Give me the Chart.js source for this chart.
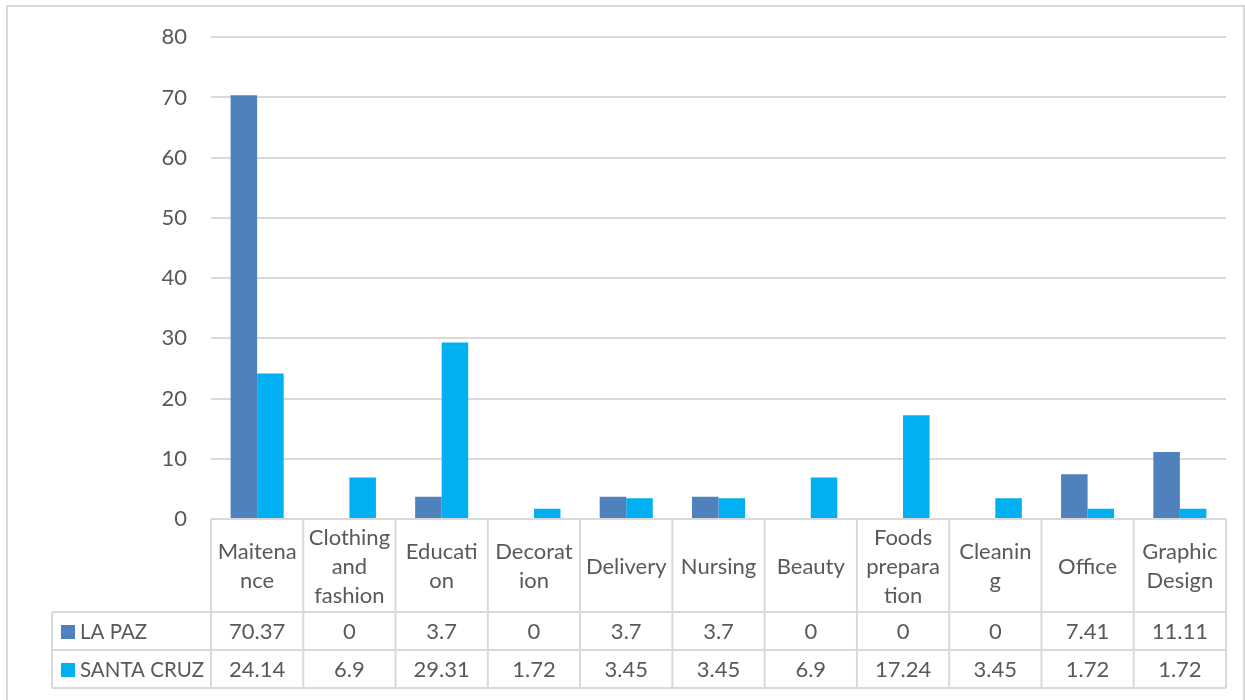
<!DOCTYPE html>
<html>
<head>
<meta charset="utf-8">
<script src="https://cdn.jsdelivr.net/npm/chart.js@4/dist/chart.umd.min.js"></script>
<style>
  html, body { margin: 0; padding: 0; background: #fff; }
  #wrap { width: 1245px; height: 700px; position: relative; }
</style>
</head>
<body>
<div id="wrap"><canvas id="jobsChart" width="1245" height="700"></canvas></div>
<script>
// categories, wrapped the way the table cells break them
const categories = [
  ["Maitena", "nce"],
  ["Clothing", "and", "fashion"],
  ["Educati", "on"],
  ["Decorat", "ion"],
  ["Delivery"],
  ["Nursing"],
  ["Beauty"],
  ["Foods", "prepara", "tion"],
  ["Cleanin", "g"],
  ["Office"],
  ["Graphic", "Design"]
];
const seriesNames = ["LA PAZ", "SANTA CRUZ"];
const laPaz = [70.37, 0, 3.7, 0, 3.7, 3.7, 0, 0, 0, 7.41, 11.11];
const santaCruz = [24.14, 6.9, 29.31, 1.72, 3.45, 3.45, 6.9, 17.24, 3.45, 1.72, 1.72];
const yTicks = [0, 10, 20, 30, 40, 50, 60, 70, 80];

const colors = ["#4F81BD", "#00B0F0"];
const lineColor = "#d9d9d9";
const textColor = "#595959";
const font = "Lato, 'Open Sans', sans-serif";
const fontSize = 22;

// data table under the plot (header row with categories + one row per series)
const dataTable = {
  id: "dataTable",
  afterDraw(chart) {
    const ctx = chart.ctx;
    const area = chart.chartArea;
    const n = categories.length;
    const colW = (area.right - area.left) / n;
    const headTop = area.bottom;
    const headBottom = headTop + 93;
    const rowH = 38;
    const tableLeft = 52;
    const tableBottom = headBottom + rowH * seriesNames.length;
    const series = [laPaz, santaCruz];

    ctx.save();
    ctx.strokeStyle = lineColor;
    ctx.lineWidth = 2;

    // outer chart frame
    ctx.strokeRect(7, 6, 1237, 700);

    ctx.beginPath();
    // header top
    ctx.moveTo(area.left, headTop);
    ctx.lineTo(area.right, headTop);
    // row lines
    for (let r = 0; r <= seriesNames.length; r++) {
      const y = headBottom + r * rowH;
      ctx.moveTo(tableLeft, y);
      ctx.lineTo(area.right, y);
    }
    // column lines
    for (let i = 0; i <= n; i++) {
      const x = area.left + i * colW;
      ctx.moveTo(x, headTop);
      ctx.lineTo(x, tableBottom);
    }
    ctx.moveTo(tableLeft, headBottom);
    ctx.lineTo(tableLeft, tableBottom);
    ctx.stroke();

    ctx.fillStyle = textColor;
    ctx.font = fontSize + "px " + font;
    ctx.textAlign = "center";
    ctx.textBaseline = "middle";

    // category headers
    const lineH = 29;
    categories.forEach((lines, i) => {
      const cx = chart.scales.x.getPixelForValue(i);
      const cy = (headTop + headBottom) / 2 + 1;
      const start = cy - (lines.length - 1) * lineH / 2;
      lines.forEach((t, k) => ctx.fillText(t, cx, start + k * lineH));
    });

    // values + legend keys
    series.forEach((vals, r) => {
      const cy = headBottom + r * rowH + rowH / 2 + 1;
      vals.forEach((v, i) => {
        ctx.fillText(String(v), chart.scales.x.getPixelForValue(i), cy);
      });
      ctx.fillStyle = colors[r];
      ctx.fillRect(61, cy - 7, 14, 14);
      ctx.fillStyle = textColor;
      ctx.textAlign = "left";
      ctx.font = "20.5px " + font;
      ctx.fillText(seriesNames[r], 80, cy);
      ctx.font = fontSize + "px " + font;
      ctx.textAlign = "center";
    });
    ctx.restore();
  }
};

new Chart(document.getElementById("jobsChart"), {
  type: "bar",
  data: {
    labels: categories,
    datasets: [
      { label: seriesNames[0], data: laPaz, backgroundColor: colors[0] },
      { label: seriesNames[1], data: santaCruz, backgroundColor: colors[1] }
    ]
  },
  options: {
    responsive: false,
    animation: false,
    devicePixelRatio: 1,
    categoryPercentage: 0.575,
    barPercentage: 1,
    layout: { padding: { top: 35, right: 19, bottom: 181, left: 0 } },
    plugins: {
      legend: { display: false },
      tooltip: { enabled: false }
    },
    scales: {
      x: { display: false },
      y: {
        min: 0,
        max: 80,
        afterBuildTicks(scale) {
          scale.ticks = yTicks.map((v) => ({ value: v }));
        },
        afterFit(scale) {
          scale.width = 211;
        },
        border: { display: false },
        grid: { color: lineColor, lineWidth: 2, drawTicks: false },
        ticks: {
          padding: 24,
          color: textColor,
          font: { family: font, size: fontSize }
        }
      }
    }
  },
  plugins: [dataTable]
});
</script>
</body>
</html>
